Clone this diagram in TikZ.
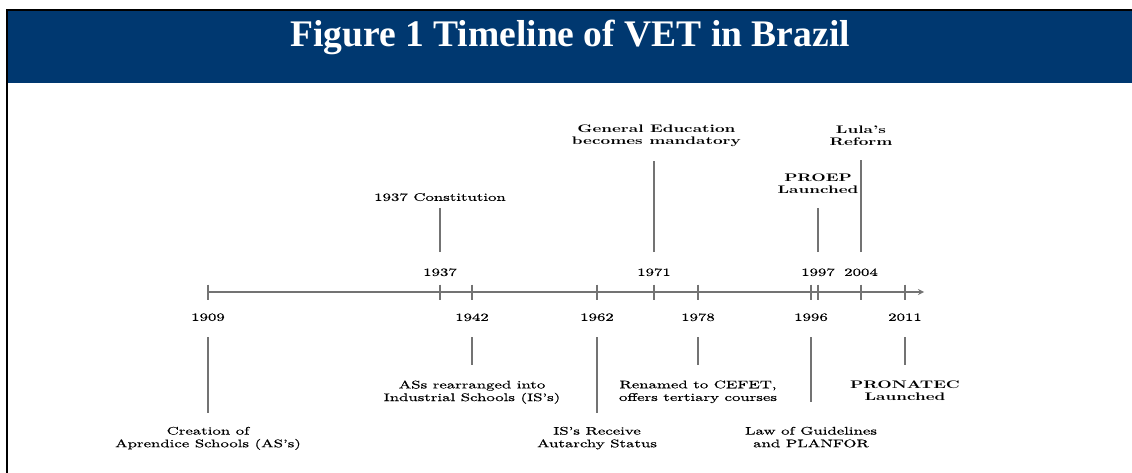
\documentclass[tikz,border=0pt]{standalone}
\usepackage{fontspec}
\usepackage{xcolor}
\usepackage{tikz}
\usetikzlibrary{arrows,positioning}
\newfontfamily\titlefont{Liberation Serif}
\newfontfamily\eventfont{lmroman10-regular.otf}[Ligatures=TeX,FakeStretch=1.53,FakeBold=0.6]
\newfontfamily\eventboldfont{lmroman10-bold.otf}[Ligatures=TeX,FakeStretch=1.53]
\definecolor{bandblue}{RGB}{0,56,112}
\definecolor{linegray}{RGB}{115,115,115}
\tikzset{
    >=stealth,
    font=\eventfont\fontsize{7.8}{9.0}\selectfont,
    title/.style={anchor=base,text=white,font=\titlefont\bfseries\fontsize{26.7}{32}\selectfont},
    year/.style={inner sep=0pt},
    event/.style={align=center,inner sep=0pt},
    bold event/.style={event,font=\eventboldfont\fontsize{7.8}{9.0}\selectfont},
    axis/.style={draw=linegray,line width=0.9pt},
    tick/.style={draw=linegray,line width=0.9pt},
    stem/.style={draw=linegray,line width=1pt,shorten <=0.4cm}
}
\begin{document}
\begin{tikzpicture}[x=0.025cm,y=-0.025cm]
    \useasboundingbox (0,0) rectangle (1132,473);
    % title band
    \fill[bandblue] (8,11) rectangle (1132,83);
    \draw[line width=1.4pt] (7,473) -- (7,10) -- (1132,10);
    \node[title] (title) at (570,47) {Figure 1 Timeline of VET in Brazil};

    % axis
    \coordinate (t1909) at (208,292);
    \coordinate (t1937) at (440,292);
    \coordinate (t1942) at (472,292);
    \coordinate (t1962) at (597,292);
    \coordinate (t1971) at (654,292);
    \coordinate (t1978) at (698,292);
    \coordinate (t1996) at (811,292);
    \coordinate (t1997) at (818,292);
    \coordinate (t2004) at (861,292);
    \coordinate (t2011) at (905,292);
    \coordinate (end) at (924,292);
    \draw[axis,->] (t1909) -- (end);
    \draw[tick] (t1909) ++(0,-7.5) -- ++(0,15);
    \draw[tick] (t1937) ++(0,-7.5) -- ++(0,15);
    \draw[tick] (t1942) ++(0,-7.5) -- ++(0,15);
    \draw[tick] (t1962) ++(0,-7.5) -- ++(0,15);
    \draw[tick] (t1971) ++(0,-7.5) -- ++(0,15);
    \draw[tick] (t1978) ++(0,-7.5) -- ++(0,15);
    \draw[tick] (t1996) ++(0,-7.5) -- ++(0,15);
    \draw[tick] (t1997) ++(0,-7.5) -- ++(0,15);
    \draw[tick] (t2004) ++(0,-7.5) -- ++(0,15);
    \draw[tick] (t2011) ++(0,-7.5) -- ++(0,15);

    % years
    \node[year] (1937) [above = 0.39cm of t1937] {1937};
    \node[year] (1971) [above = 0.39cm of t1971] {1971};
    \node[year] (1997) [above = 0.39cm of t1997] {1997};
    \node[year] (2004) [above = 0.39cm of t2004] {2004};
    \node[year] (1909) [below = 0.53cm of t1909] {1909};
    \node[year] (1942) [below = 0.53cm of t1942] {1942};
    \node[year] (1962) [below = 0.53cm of t1962] {1962};
    \node[year] (1978) [below = 0.53cm of t1978] {1978};
    \node[year] (1996) [below = 0.53cm of t1996] {1996};
    \node[year] (2011) [below = 0.53cm of t2011] {2011};

    % events
    \node[event] (1937a) [above = 1.67cm of 1937] {1937 Constitution};
    \node[bold event] (1971a) [above = 3.02cm of 1971, xshift=0.06cm] {General Education\\becomes mandatory};
    \node[bold event] (1997a) [above = 1.85cm of 1997] {PROEP\\Launched};
    \node[bold event] (2004a) [above = 3.05cm of 2004] {Lula's\\Reform};
    \node[event] (1909a) [below = 2.63cm of 1909] {Creation of\\Aprendice Schools (AS's)};
    \node[event] (1942a) [below = 1.47cm of 1942] {ASs rearranged into\\Industrial Schools (IS's)};
    \node[event] (1962a) [below = 2.63cm of 1962] {IS's Receive\\Autarchy Status};
    \node[event] (1978a) [below = 1.47cm of 1978] {Renamed to CEFET,\\offers tertiary courses};
    \node[event] (1996a) [below = 2.63cm of 1996] {Law of Guidelines\\and PLANFOR};
    \node[bold event] (2011a) [below = 1.47cm of 2011] {PRONATEC\\Launched};

    \path[]
        (1937) edge [stem, shorten >=0.17cm] (1937a)
        (1971) edge [stem, shorten >=0.33cm] (1971a.south -| 1971)
        (1997) edge [stem, shorten >=0.35cm] (1997a)
        (2004) edge [stem, shorten >=0.35cm] (2004a)
        (1909) edge [stem, shorten >=0.33cm] (1909a)
        (1942) edge [stem, shorten >=0.37cm] (1942a)
        (1962) edge [stem, shorten >=0.33cm] (1962a)
        (1978) edge [stem, shorten >=0.37cm] (1978a)
        (1996) edge [stem, shorten >=0.62cm] (1996a)
        (2011) edge [stem, shorten >=0.37cm] (2011a)
        ;
\end{tikzpicture}
\end{document}
